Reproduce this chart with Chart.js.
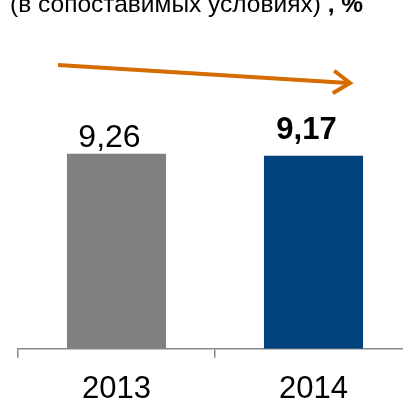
<!DOCTYPE html>
<html>
<head>
<meta charset="utf-8">
<script src="https://cdn.jsdelivr.net/npm/chart.js@4/dist/chart.umd.min.js"></script>
<style>
  html, body { margin:0; padding:0; background:#fff; overflow:hidden; }
  #wrap { position:relative; width:403px; height:402px; overflow:hidden; }
  #box { position:absolute; left:0; top:0; width:412px; height:421px; }
  #title { position:absolute; left:10px; top:-11px; font-family:"Liberation Sans", Arial, sans-serif; font-size:24.5px; color:#000; white-space:nowrap; line-height:30px; }
</style>
</head>
<body>
<div id="wrap">
  <div id="box"><canvas id="c"></canvas></div>
  <div id="title">(в сопоставимых условиях)<b> , %</b></div>
</div>
<script>
const categories = ["2013", "2014"];
const values = [9.26, 9.17];
const valueLabels = ["9,26", "9,17"];
const barColors = ["#808080", "#00417E"];
const labelBold = [false, true];

const valueLabelPlugin = {
  id: "valueLabels",
  afterDatasetsDraw(chart) {
    const ctx = chart.ctx;
    const meta = chart.getDatasetMeta(0);
    ctx.save();
    ctx.fillStyle = "#000";
    ctx.textAlign = "center";
    ctx.textBaseline = "alphabetic";
    meta.data.forEach((bar, i) => {
      ctx.font = (labelBold[i] ? "bold 31px" : "32px") + " 'Liberation Sans', Arial, sans-serif";
      const off = labelBold[i] ? 17 : 7;
      ctx.fillText(valueLabels[i], bar.x - 7, bar.y - off);
    });
    ctx.restore();
  }
};

const arrowPlugin = {
  id: "trendArrow",
  afterDraw(chart) {
    const ctx = chart.ctx;
    const x1 = 58, y1 = 65, x2 = 350, y2 = 83;
    ctx.save();
    ctx.strokeStyle = "#D46C00";
    ctx.lineWidth = 4;
    ctx.lineCap = "butt";
    ctx.beginPath();
    ctx.moveTo(x1, y1);
    ctx.lineTo(x2 - 2, y2);
    ctx.stroke();
    const ang = Math.atan2(y2 - y1, x2 - x1);
    const len = 20, spread = 0.6;
    ctx.lineJoin = "miter";
    ctx.beginPath();
    ctx.moveTo(x2 - len * Math.cos(ang - spread), y2 - len * Math.sin(ang - spread));
    ctx.lineTo(x2, y2);
    ctx.lineTo(x2 - len * Math.cos(ang + spread), y2 - len * Math.sin(ang + spread));
    ctx.stroke();
    ctx.restore();
  }
};

new Chart(document.getElementById("c"), {
  type: "bar",
  data: {
    labels: categories,
    datasets: [{
      data: values,
      backgroundColor: barColors,
      borderWidth: 0,
      barPercentage: 1,
      categoryPercentage: 0.503
    }]
  },
  options: {
    responsive: true,
    maintainAspectRatio: false,
    animation: false,
    layout: { padding: { top: 54, left: 18, right: 0, bottom: 0 } },
    plugins: { legend: { display: false }, tooltip: { enabled: false }, title: { display: false } },
    scales: {
      x: {
        offset: true,
        grid: { display: true, drawOnChartArea: false, offset: true, tickLength: 9, color: "#888888", lineWidth: 1.5 },
        border: { display: true, color: "#888888", width: 1.5 },
        ticks: { color: "#000", font: { family: "'Liberation Sans', Arial, sans-serif", size: 31 }, padding: 13 }
      },
      y: { display: false, min: 0, max: 14 }
    }
  },
  plugins: [valueLabelPlugin, arrowPlugin]
});
</script>
</body>
</html>
